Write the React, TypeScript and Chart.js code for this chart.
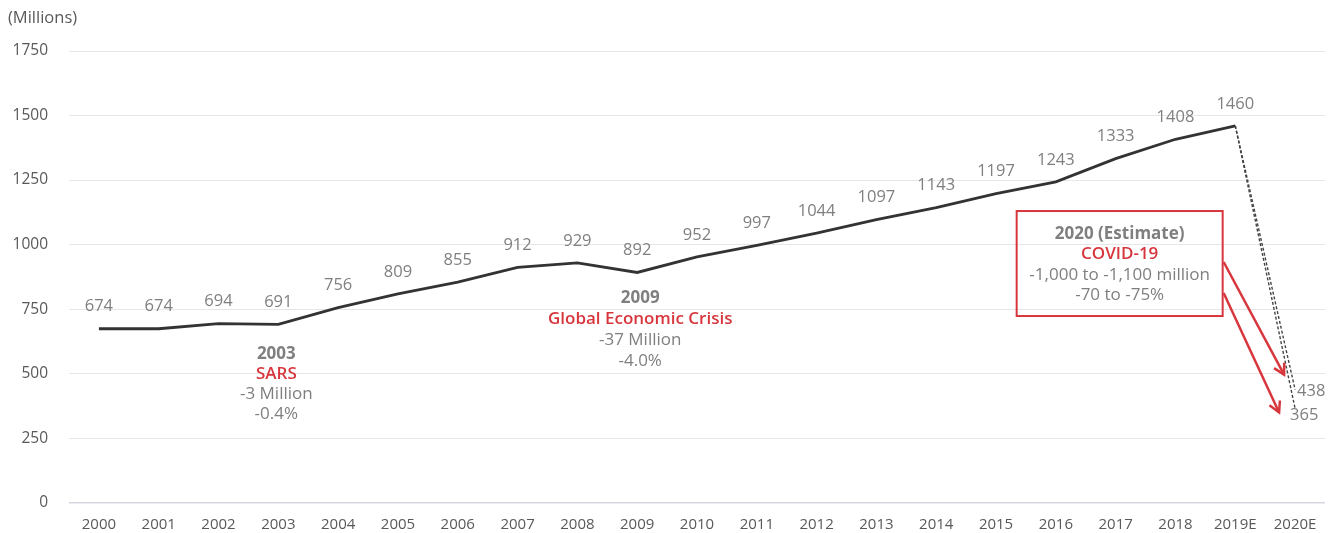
import React, { useEffect, useRef } from "react";
import { Chart, registerables } from "chart.js";

Chart.register(...registerables);

const years = ["2000","2001","2002","2003","2004","2005","2006","2007","2008","2009","2010","2011","2012","2013","2014","2015","2016","2017","2018","2019E","2020E"];
const arrivals = [674,674,694,691,756,809,855,912,929,892,952,997,1044,1097,1143,1197,1243,1333,1408,1460,null];
const estimateHigh = 438;
const estimateLow = 365;
const yTicks = [0,250,500,750,1000,1250,1500,1750];

const FONT = "'Open Sans', 'Noto Sans', sans-serif";
const GRAY = "#7f7f7f";
const TICK = "#595959";
const RED = "#d8363d";

const lastIdx = arrivals.length - 2;
const dashHigh = years.map((_, i) => (i === lastIdx ? arrivals[lastIdx] : i === lastIdx + 1 ? estimateHigh : null));
const dashLow = years.map((_, i) => (i === lastIdx ? arrivals[lastIdx] : i === lastIdx + 1 ? estimateLow : null));

const annotPlugin = {
  id: "annot",
  afterDatasetsDraw(chart: any) {
    const ctx = chart.ctx;
    const xs = chart.scales.x;
    const ys = chart.scales.y;
    ctx.save();
    ctx.font = `16.5px ${FONT}`;
    ctx.fillStyle = TICK;
    ctx.textAlign = "left";
    ctx.textBaseline = "middle";
    ctx.fillText("(Millions)", 8, 18);

    ctx.font = `16.5px ${FONT}`;
    ctx.fillStyle = GRAY;
    ctx.textAlign = "center";
    ctx.textBaseline = "middle";
    arrivals.forEach((v, i) => {
      if (v == null) return;
      const x = xs.getPixelForValue(i);
      const y = ys.getPixelForValue(v);
      ctx.fillText(String(v), x, y - 22);
    });
    ctx.textAlign = "left";
    const xe = xs.getPixelForValue(lastIdx + 1);
    ctx.fillText(String(estimateHigh), xe + 2, ys.getPixelForValue(estimateHigh) + 2);
    ctx.fillText(String(estimateLow), xe - 5, ys.getPixelForValue(estimateLow) + 7);

    const block = (cx: number, cy: number, lines: { t: string; bold?: boolean; red?: boolean }[], lh: number) => {
      ctx.textAlign = "center";
      ctx.textBaseline = "middle";
      lines.forEach((l, k) => {
        ctx.font = `${l.bold ? "bold " : l.red ? "600 " : ""}17px ${FONT}`;
        ctx.fillStyle = l.red ? RED : GRAY;
        ctx.fillText(l.t, cx, cy + k * lh);
      });
    };

    block(xs.getPixelForValue(3) - 2, ys.getPixelForValue(577), [
      { t: "2003", bold: true },
      { t: "SARS", red: true },
      { t: "-3 Million" },
      { t: "-0.4%" },
    ], 20);

    block(xs.getPixelForValue(9) + 3, ys.getPixelForValue(794), [
      { t: "2009", bold: true },
      { t: "Global Economic Crisis", red: true },
      { t: "-37 Million" },
      { t: "-4.0%" },
    ], 21);

    const bx = xs.getPixelForValue(17) + 4;
    const by = ys.getPixelForValue(1130);
    const bw = 206, bh = 105;
    ctx.strokeStyle = RED;
    ctx.lineWidth = 2;
    ctx.strokeRect(bx - bw / 2, by, bw, bh);
    block(bx, by + 23, [
      { t: "2020 (Estimate)", bold: true },
      { t: "COVID-19", red: true },
      { t: "-1,000 to -1,100 million" },
      { t: "-70 to -75%" },
    ], 20.5);

    const arrow = (x1: number, y1: number, x2: number, y2: number) => {
      ctx.strokeStyle = RED;
      ctx.lineWidth = 2.5;
      ctx.beginPath();
      ctx.moveTo(x1, y1);
      ctx.lineTo(x2, y2);
      ctx.stroke();
      const a = Math.atan2(y2 - y1, x2 - x1);
      const L = 12;
      ctx.beginPath();
      ctx.moveTo(x2 - L * Math.cos(a - 0.5), y2 - L * Math.sin(a - 0.5));
      ctx.lineTo(x2, y2);
      ctx.lineTo(x2 - L * Math.cos(a + 0.5), y2 - L * Math.sin(a + 0.5));
      ctx.stroke();
    };
    const rx = bx + bw / 2 + 1;
    arrow(rx, by + 51, xe - 11, ys.getPixelForValue(estimateHigh) - 15);
    arrow(rx, by + 82, xe - 16, ys.getPixelForValue(estimateLow) + 4);
    ctx.restore();
  },
};

export default function App() {
  const ref = useRef<HTMLCanvasElement>(null);
  useEffect(() => {
    document.body.style.margin = "0";
    const chart = new Chart(ref.current!, {
      type: "line",
      data: {
        labels: years,
        datasets: [
          {
            data: arrivals,
            borderColor: "#333333",
            borderWidth: 2.8,
            pointRadius: 0,
            tension: 0,
            spanGaps: false,
          },
          {
            data: dashHigh,
            borderColor: "#444444",
            borderWidth: 1.4,
            borderDash: [3, 2],
            pointRadius: 0,
          },
          {
            data: dashLow,
            borderColor: "#444444",
            borderWidth: 1.4,
            borderDash: [3, 2],
            pointRadius: 0,
          },
        ],
      },
      options: {
        animation: false,
        responsive: true,
        maintainAspectRatio: false,
        layout: { padding: { top: 51, right: 13, left: 0, bottom: 0 } },
        plugins: { legend: { display: false }, tooltip: { enabled: false } },
        scales: {
          x: {
            offset: true,
            grid: { display: false, drawTicks: false },
            border: { display: false },
            ticks: { color: TICK, font: { family: FONT, size: 15 }, padding: 13, maxRotation: 0, autoSkip: false },
            afterFit: (s: any) => { s.height = 30; },
          },
          y: {
            min: 0,
            max: 1750,
            afterBuildTicks: (s: any) => { s.ticks = yTicks.map((v) => ({ value: v })); },
            grid: {
              drawTicks: false,
              color: (c: any) => (c.tick && c.tick.value === 0 ? "#d6d6e2" : "#e6e6e6"),
              lineWidth: (c: any) => (c.tick && c.tick.value === 0 ? 1.5 : 1),
            },
            border: { display: false },
            ticks: {
              color: TICK,
              font: { family: FONT, size: 15.5 },
              padding: 21,
              callback: (v: any) => String(v),
            },
            afterFit: (s: any) => { s.width = 69; },
          },
        },
      },
      plugins: [annotPlugin],
    });
    return () => chart.destroy();
  }, []);
  return (
    <div style={{ position: "relative", width: 1338, height: 533 }}>
      <canvas ref={ref} />
    </div>
  );
}
